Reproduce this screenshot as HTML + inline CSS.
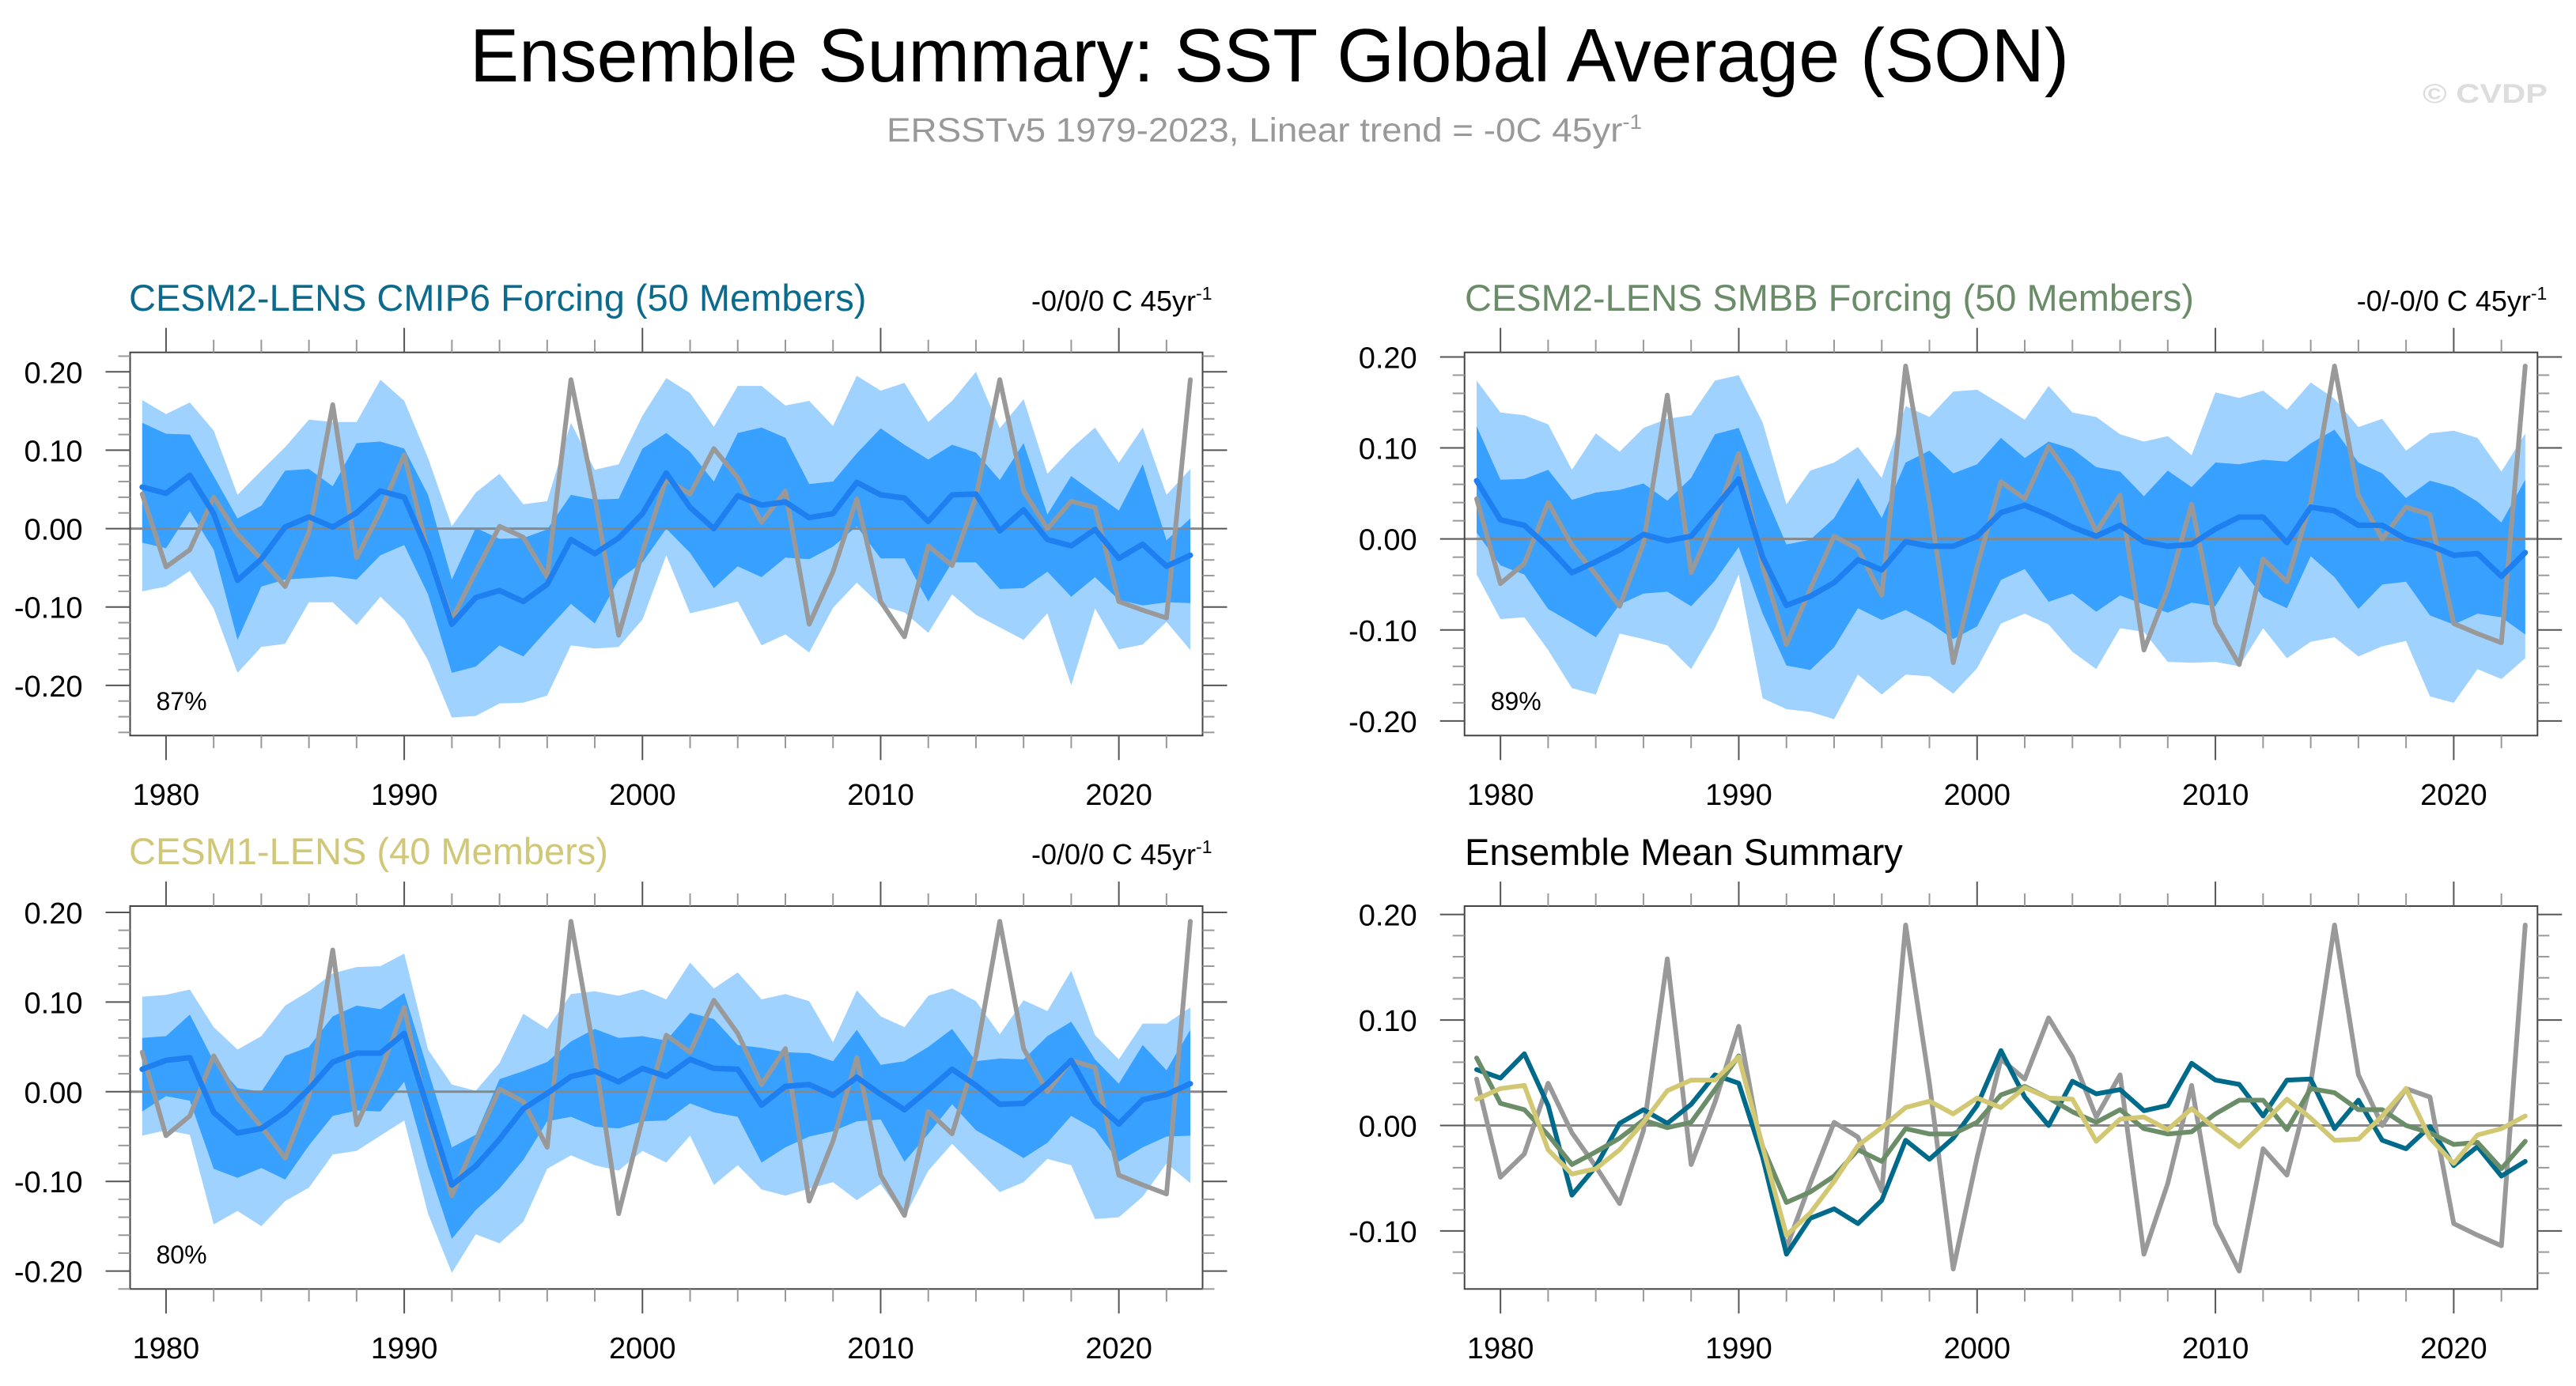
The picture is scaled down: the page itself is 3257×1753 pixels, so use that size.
<!DOCTYPE html>
<html><head><meta charset="utf-8">
<style>
html,body{margin:0;padding:0;background:#fff;}
svg{display:block;font-family:"Liberation Sans",sans-serif;}
</style></head>
<body>
<svg id="fig" width="3257" height="1753" viewBox="0 0 3257 1753" xmlns="http://www.w3.org/2000/svg">
<rect width="3257" height="1753" fill="#fff"/>
<text x="594" y="103" font-size="96" textLength="2022" lengthAdjust="spacingAndGlyphs" fill="#000">Ensemble Summary: SST Global Average (SON)</text>
<text x="1121" y="179" font-size="43" textLength="955" lengthAdjust="spacingAndGlyphs" fill="#999">ERSSTv5 1979-2023, Linear trend = -0C 45yr<tspan dy="-16" font-size="26">-1</tspan></text>
<text x="3063" y="130" font-size="34" font-weight="bold" textLength="158" lengthAdjust="spacingAndGlyphs" fill="#ddd">© CVDP</text>
<g id="panels"></g>
</svg>
<script>
const years = [];
for (let y = 1979; y <= 2023; y++) years.push(y);

const obs = [0.044,-0.049,-0.027,0.040,-0.007,-0.039,-0.074,-0.005,0.158,-0.037,0.022,0.094,-0.030,-0.116,-0.055,0.003,-0.011,-0.062,0.190,0.040,-0.136,-0.030,0.063,0.044,0.102,0.065,0.008,0.048,-0.122,-0.055,0.038,-0.093,-0.138,-0.022,-0.047,0.040,0.190,0.048,0.000,0.035,0.027,-0.093,-0.104,-0.114,0.190];

const meanCmip6 = [0.053,0.045,0.068,0.019,-0.066,-0.039,0.002,0.015,0.002,0.020,0.048,0.040,-0.030,-0.122,-0.088,-0.079,-0.093,-0.071,-0.014,-0.032,-0.012,0.019,0.071,0.027,0.000,0.042,0.030,0.034,0.014,0.019,0.059,0.043,0.039,0.009,0.043,0.044,-0.003,0.024,-0.014,-0.022,-0.001,-0.038,-0.020,-0.048,-0.034];
const meanSmbb = [0.064,0.021,0.015,-0.009,-0.037,-0.025,-0.012,0.005,-0.002,0.003,0.034,0.066,-0.020,-0.073,-0.063,-0.048,-0.023,-0.034,-0.003,-0.008,-0.008,0.003,0.029,0.037,0.026,0.013,0.003,0.015,-0.003,-0.008,-0.006,0.011,0.024,0.024,-0.004,0.035,0.031,0.015,0.015,0.000,-0.007,-0.018,-0.016,-0.041,-0.015];
const meanCesm1 = [0.025,0.035,0.038,-0.023,-0.046,-0.041,-0.023,0.003,0.033,0.043,0.043,0.065,-0.020,-0.104,-0.083,-0.053,-0.019,-0.002,0.017,0.023,0.011,0.026,0.017,0.036,0.026,0.025,-0.015,0.006,0.008,-0.004,0.016,-0.003,-0.020,0.002,0.025,0.007,-0.014,-0.013,0.009,0.035,-0.012,-0.036,-0.009,-0.003,0.009];

const p1OuterHi = [0.164,0.146,0.161,0.125,0.043,0.074,0.104,0.139,0.136,0.136,0.190,0.163,0.090,0.003,0.046,0.070,0.031,0.035,0.135,0.075,0.082,0.144,0.192,0.173,0.130,0.182,0.182,0.157,0.163,0.131,0.195,0.176,0.186,0.136,0.163,0.200,0.128,0.165,0.070,0.102,0.129,0.084,0.129,0.043,0.076];
const p1InnerHi = [0.135,0.121,0.120,0.067,0.013,0.029,0.074,0.076,0.054,0.109,0.111,0.102,0.043,-0.065,0.001,-0.013,-0.012,-0.001,0.043,0.037,0.038,0.102,0.122,0.098,0.060,0.122,0.129,0.116,0.057,0.060,0.096,0.128,0.107,0.088,0.107,0.097,0.062,0.109,0.018,0.067,0.045,0.023,0.082,-0.015,0.013];
const p1InnerLo = [-0.018,-0.025,0.022,-0.027,-0.142,-0.074,-0.065,-0.063,-0.061,-0.065,-0.034,-0.021,-0.084,-0.184,-0.176,-0.149,-0.163,-0.129,-0.096,-0.121,-0.065,-0.043,0.000,-0.031,-0.076,-0.048,-0.062,-0.037,-0.039,-0.023,0.003,-0.038,-0.038,-0.093,-0.043,-0.043,-0.077,-0.076,-0.055,-0.087,-0.062,-0.091,-0.098,-0.094,-0.095];
const p1OuterLo = [-0.080,-0.074,-0.054,-0.102,-0.184,-0.151,-0.147,-0.094,-0.094,-0.123,-0.087,-0.116,-0.168,-0.241,-0.239,-0.223,-0.222,-0.213,-0.149,-0.153,-0.151,-0.116,-0.034,-0.108,-0.101,-0.093,-0.149,-0.135,-0.158,-0.101,-0.069,-0.098,-0.107,-0.133,-0.084,-0.110,-0.126,-0.142,-0.108,-0.200,-0.102,-0.154,-0.148,-0.119,-0.155];

const p2OuterHi = [0.174,0.139,0.136,0.126,0.076,0.116,0.096,0.122,0.132,0.136,0.174,0.180,0.128,0.038,0.075,0.084,0.101,0.067,0.146,0.134,0.162,0.164,0.148,0.131,0.168,0.139,0.134,0.115,0.107,0.113,0.092,0.161,0.155,0.163,0.142,0.172,0.154,0.123,0.132,0.097,0.116,0.119,0.111,0.074,0.116];
const p2InnerHi = [0.124,0.065,0.066,0.076,0.043,0.051,0.054,0.061,0.042,0.067,0.115,0.122,0.055,-0.006,-0.001,0.023,0.067,0.023,0.084,0.097,0.072,0.082,0.111,0.089,0.107,0.099,0.079,0.074,0.047,0.075,0.057,0.084,0.082,0.087,0.085,0.105,0.120,0.084,0.072,0.045,0.064,0.057,0.041,0.018,0.065];
const p2InnerLo = [0.007,-0.029,-0.039,-0.077,-0.092,-0.108,-0.072,-0.060,-0.058,-0.074,-0.046,-0.009,-0.082,-0.139,-0.144,-0.119,-0.076,-0.089,-0.078,-0.092,-0.110,-0.096,-0.045,-0.033,-0.069,-0.060,-0.080,-0.062,-0.072,-0.081,-0.070,-0.074,-0.030,-0.064,-0.076,-0.019,-0.042,-0.077,-0.050,-0.047,-0.084,-0.094,-0.082,-0.086,-0.105];
const p2OuterLo = [-0.039,-0.088,-0.086,-0.122,-0.164,-0.171,-0.104,-0.110,-0.117,-0.143,-0.098,-0.039,-0.175,-0.187,-0.190,-0.198,-0.149,-0.171,-0.149,-0.151,-0.170,-0.142,-0.093,-0.082,-0.094,-0.124,-0.143,-0.098,-0.102,-0.135,-0.136,-0.135,-0.140,-0.098,-0.131,-0.113,-0.108,-0.129,-0.118,-0.112,-0.173,-0.180,-0.143,-0.154,-0.131];

const p3OuterHi = [0.106,0.108,0.114,0.072,0.047,0.062,0.096,0.112,0.132,0.139,0.140,0.154,0.047,0.008,0.001,0.032,0.087,0.070,0.109,0.112,0.107,0.114,0.103,0.144,0.115,0.133,0.103,0.109,0.101,0.055,0.113,0.084,0.072,0.107,0.115,0.101,0.064,0.102,0.090,0.135,0.063,0.036,0.076,0.076,0.094];
const p3InnerHi = [0.060,0.062,0.086,0.034,0.004,0.000,0.040,0.050,0.084,0.096,0.092,0.110,0.024,-0.062,-0.048,0.014,0.023,0.033,0.056,0.070,0.060,0.062,0.057,0.088,0.081,0.052,0.049,0.044,0.043,0.034,0.069,0.030,0.034,0.050,0.070,0.034,0.037,0.036,0.062,0.078,0.036,0.009,0.052,0.024,0.069];
const p3InnerLo = [-0.022,-0.005,-0.010,-0.086,-0.096,-0.085,-0.098,-0.060,-0.027,-0.021,-0.022,0.011,-0.084,-0.164,-0.132,-0.108,-0.076,-0.033,-0.028,-0.039,-0.041,-0.033,-0.032,-0.013,-0.023,-0.028,-0.079,-0.062,-0.050,-0.044,-0.033,-0.031,-0.078,-0.047,-0.014,-0.043,-0.058,-0.074,-0.057,-0.027,-0.042,-0.078,-0.062,-0.050,-0.049];
const p3OuterLo = [-0.049,-0.043,-0.048,-0.148,-0.133,-0.150,-0.122,-0.107,-0.070,-0.066,-0.049,-0.032,-0.136,-0.202,-0.159,-0.169,-0.145,-0.086,-0.071,-0.082,-0.088,-0.066,-0.079,-0.049,-0.104,-0.082,-0.109,-0.116,-0.108,-0.101,-0.121,-0.103,-0.140,-0.088,-0.058,-0.085,-0.112,-0.101,-0.075,-0.082,-0.142,-0.140,-0.117,-0.080,-0.102];

const xTickYears = [1980,1990,2000,2010,2020];
const yTicksBig = [0.20,0.10,0.00,-0.10,-0.20];
const yTicksSmall = [0.20,0.10,0.00,-0.10];

const NS = "http://www.w3.org/2000/svg";
const root = document.getElementById('panels');
function mk(tag, attrs, parent) {
  const e = document.createElementNS(NS, tag);
  for (const k in attrs) e.setAttribute(k, attrs[k]);
  (parent || root).appendChild(e);
  return e;
}

function panel(cfg) {
  const g = mk('g', {});
  
  
  const {L, R, T, B, vmax, vmin} = cfg;
  const x0 = L + 15.3, x1 = R - 15.5;
  const sx = yr => x0 + (yr - 1979) * (x1 - x0) / 44;
  const sy = v => T + (vmax - v) * (B - T) / (vmax - vmin);

  function band(hi, lo, color, nm) {
    let d = '';
    hi.forEach((v, i) => { d += (i ? 'L' : 'M') + sx(years[i]).toFixed(1) + ' ' + sy(v).toFixed(1); });
    for (let i = lo.length - 1; i >= 0; i--) d += 'L' + sx(years[i]).toFixed(1) + ' ' + sy(lo[i]).toFixed(1);
    const p = mk('path', {d: d + 'Z', fill: color}, g);
    
    
  }
  function line(vals, color, w, nm) {
    const pts = vals.map((v, i) => sx(years[i]).toFixed(1) + ',' + sy(v).toFixed(1)).join(' ');
    const p = mk('polyline', {points: pts, fill: 'none', stroke: color, 'stroke-width': w, 'stroke-linejoin': 'round', 'stroke-linecap': 'round'}, g);
    
    
  }

  if (cfg.outerHi) {
    band(cfg.outerHi, cfg.outerLo, '#a0d2ff', 'outer-spread-band');
    band(cfg.innerHi, cfg.innerLo, '#38a0ff', 'inner-spread-band');
  }
  const zl = mk('line', {x1: L, x2: R, y1: sy(0), y2: sy(0), stroke: '#888', 'stroke-width': 3}, g);
  
  

  line(obs, '#999999', 6, 'observed-ersstv5-line');
  cfg.lines.forEach(l => line(l.vals, l.color, l.w, l.name));

  const box = mk('rect', {x: L, y: T, width: R - L, height: B - T, fill: 'none', stroke: '#444', 'stroke-width': 2}, g);
  
  

  for (let yr = 1980; yr <= 2022; yr += 2) {
    const major = yr % 10 === 0;
    const x = sx(yr);
    const len = major ? 31 : 16;
    mk('line', {x1: x, x2: x, y1: T, y2: T - len, stroke: major ? '#555' : '#999', 'stroke-width': 2}, g);
    mk('line', {x1: x, x2: x, y1: B, y2: B + len, stroke: major ? '#555' : '#999', 'stroke-width': 2}, g);
  }
  xTickYears.forEach(yr => {
    const t = mk('text', {x: sx(yr), y: cfg.xLabY, 'font-size': 38, 'text-anchor': 'middle', fill: '#000'}, g);
    t.textContent = yr;
    
    
  });
  for (let k = Math.ceil(vmin / 0.02 - 1e-6); k <= Math.floor(vmax / 0.02 + 1e-6); k++) {
    const v = k * 0.02;
    const major = k % 5 === 0;
    const y = sy(v);
    const len = major ? 31 : 15;
    mk('line', {x1: L, x2: L - len, y1: y, y2: y, stroke: major ? '#555' : '#999', 'stroke-width': 2}, g);
    mk('line', {x1: R, x2: R + len, y1: y, y2: y, stroke: major ? '#555' : '#999', 'stroke-width': 2}, g);
  }
  cfg.yTicks.forEach(v => {
    const t = mk('text', {x: L - 60, y: sy(v) + 14, 'font-size': 38, 'text-anchor': 'end', fill: '#000'}, g);
    t.textContent = v.toFixed(2);
    
    
  });
  const ti = mk('text', {x: cfg.titleX, y: cfg.titleY, 'font-size': 47, fill: cfg.titleColor}, g);
  ti.textContent = cfg.title;
  
  
  if (cfg.trend) {
    const tr = mk('text', {x: R + 12, y: cfg.titleY, 'font-size': 36, 'text-anchor': 'end', fill: '#000'}, g);
    tr.innerHTML = cfg.trend + ' C 45yr<tspan dy="-14" font-size="23">-1</tspan>';
    
    
  }
  if (cfg.pct) {
    const pc = mk('text', {x: L + 33, y: cfg.pctY, 'font-size': 32, fill: '#000'}, g);
    pc.textContent = cfg.pct;
    
    
  }
}

const blue = '#1e7ff0';
panel({name: 'panel-cesm2-cmip6', L: 164.5, R: 1520.5, T: 445.7, B: 930.3, vmax: 0.2248, vmin: -0.264,
  outerHi: p1OuterHi, outerLo: p1OuterLo, innerHi: p1InnerHi, innerLo: p1InnerLo,
  lines: [{vals: meanCmip6, color: blue, w: 7, name: 'ensemble-mean-line'}],
  yTicks: yTicksBig, xLabY: 1018, title: 'CESM2-LENS CMIP6 Forcing (50 Members)', titleX: 163, titleY: 393, titleColor: '#0c6a8c',
  trend: '-0/0/0', pct: '87%', pctY: 898});
panel({name: 'panel-cesm2-smbb', L: 1851.7, R: 3208.3, T: 445.7, B: 930.3, vmax: 0.205, vmin: -0.216,
  outerHi: p2OuterHi, outerLo: p2OuterLo, innerHi: p2InnerHi, innerLo: p2InnerLo,
  lines: [{vals: meanSmbb, color: blue, w: 7, name: 'ensemble-mean-line'}],
  yTicks: yTicksBig, xLabY: 1018, title: 'CESM2-LENS SMBB Forcing (50 Members)', titleX: 1852, titleY: 393, titleColor: '#6a8c68',
  trend: '-0/-0/0', pct: '89%', pctY: 898});
panel({name: 'panel-cesm1-lens', L: 164.5, R: 1520.5, T: 1146, B: 1630.3, vmax: 0.207, vmin: -0.22,
  outerHi: p3OuterHi, outerLo: p3OuterLo, innerHi: p3InnerHi, innerLo: p3InnerLo,
  lines: [{vals: meanCesm1, color: blue, w: 7, name: 'ensemble-mean-line'}],
  yTicks: yTicksBig, xLabY: 1718, title: 'CESM1-LENS (40 Members)', titleX: 163, titleY: 1093, titleColor: '#d0c878',
  trend: '-0/0/0', pct: '80%', pctY: 1598});
panel({name: 'panel-ensemble-mean-summary', L: 1851.7, R: 3208.3, T: 1146, B: 1630.3, vmax: 0.208, vmin: -0.155,
  lines: [
    {vals: meanCmip6, color: '#006a8a', w: 6, name: 'cesm2-cmip6-mean-line'},
    {vals: meanSmbb, color: '#6b8e69', w: 6, name: 'cesm2-smbb-mean-line'},
    {vals: meanCesm1, color: '#d2c874', w: 6, name: 'cesm1-mean-line'}],
  yTicks: yTicksSmall, xLabY: 1718, title: 'Ensemble Mean Summary', titleX: 1852, titleY: 1094, titleColor: '#000'});
</script>
</body></html>
